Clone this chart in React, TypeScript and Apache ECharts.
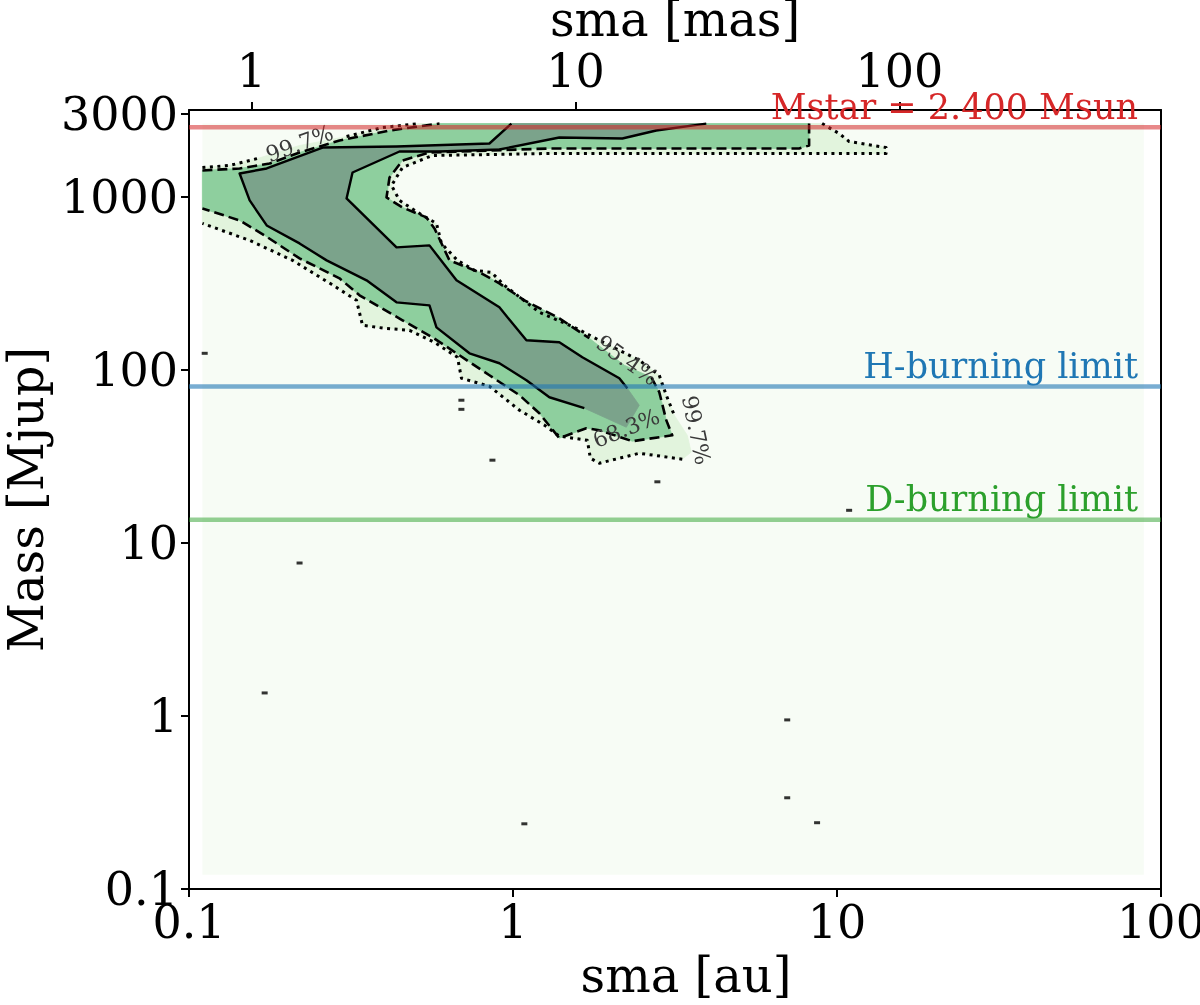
import React, { useEffect, useRef } from "react";
import * as echarts from "echarts";

// ---------- data ----------
const X_TICKS = [0.1, 1, 10, 100];
const TOP_TICKS = [1, 10, 100];
const Y_TICKS = [0.1, 1, 10, 100, 1000, 3000];
const X_RANGE = [0.1, 100]; // au
const Y_RANGE = [0.1, 3162]; // Mjup
const DIST_PC = 155.8; // sma[mas] = sma[au] * 1000 / distance

// extent of the probability grid [au, Mjup]
const GRID_EXTENT = [
  [0.11, 0.121],
  [88.5, 2640],
];

// 99.7% contour [au, Mjup]
const C997: number[][] = [
  [0.11, 1472], [0.1335, 1512], [0.1628, 1659], [0.2194, 1972], [0.3064, 2222],
  [0.3957, 2505], [0.5145, 2640], [8.996, 2640], [10.15, 2313], [10.9, 2080],
  [14.17, 1920], [14.17, 1773], [3.757, 1773], [1.295, 1773], [0.5642, 1727],
  [0.456, 1472], [0.4218, 1159], [0.4464, 949.5], [0.5255, 778.1], [0.5805, 699.5],
  [0.6015, 536.3], [0.6739, 427.8], [0.7604, 374.6], [0.8579, 364.8], [0.9406, 306.9],
  [1.206, 214.4], [1.547, 175.6], [1.847, 147.8], [2.453, 113.3], [2.828, 92.8],
  [2.972, 71.2], [3.146, 54.6], [3.45, 41.8], [3.549, 33.4], [3.33, 30.4],
  [2.453, 32.9], [1.847, 28.8], [1.733, 30.8], [1.696, 39.1], [1.39, 41.3],
  [1.25, 47.8], [1.047, 58.3], [0.8458, 80.2], [0.6933, 89.2], [0.6739, 117.9],
  [0.5723, 143.9], [0.4793, 168.8], [0.4013, 173.4], [0.3432, 180.4], [0.3289, 251.5],
  [0.2754, 311.0], [0.2088, 427.8], [0.1539, 558.1], [0.11, 699.5],
];
const C997_RUNS = [[0, 2], [4, 6], [7, 31], [34, 53]];

// 95.4% contour [au, Mjup]
const C954: number[][] = [
  [0.11, 1415], [0.1433, 1453], [0.1774, 1552], [0.2194, 1797], [0.2915, 2107],
  [0.4158, 2407], [0.593, 2640], [8.202, 2640], [8.202, 1972], [7.641, 1895],
  [1.295, 1895], [0.5523, 1797], [0.456, 1616], [0.4158, 1289], [0.407, 988],
  [0.456, 865], [0.5407, 757.7], [0.5723, 654.5], [0.6367, 427.8], [0.7879, 364.8],
  [0.9078, 315.2], [1.084, 251.5], [1.39, 198.0], [1.72, 151.8], [2.206, 106.0],
  [2.672, 90.4], [2.828, 74.1], [2.972, 51.1], [3.101, 41.8], [2.335, 38.6],
  [1.847, 44.7], [1.684, 45.9], [1.39, 40.2], [1.206, 56.0], [1.047, 71.2],
  [0.8458, 92.8], [0.6692, 124.3], [0.5642, 153.8], [0.456, 192.8], [0.336, 268.8],
  [0.2915, 336.9], [0.2194, 439.3], [0.1712, 596.4], [0.1433, 727.9], [0.11, 853.6],
];
const C954_RUNS = [[0, 6], [7, 23], [25, 44]];

// 68.3% contour [au, Mjup]
const C683: number[][] = [
  [1.66, 59.9], [1.295, 69.3], [1.1, 86.9], [0.9078, 108.9], [0.7339, 124.3],
  [0.5805, 175.6], [0.5523, 235.3], [0.437, 244.9], [0.3531, 328.1], [0.2659, 427.8],
  [0.2194, 536.3], [0.1737, 681], [0.1539, 949.5], [0.1433, 1359], [0.1737, 1453],
  [0.2584, 1920], [0.437, 1946], [0.8458, 2025], [0.9887, 2640], [3.949, 2640],
  [2.768, 2407], [2.175, 2165], [1.39, 2193], [0.9078, 1870], [0.593, 1821],
  [0.4464, 1821], [0.3197, 1377], [0.3064, 975], [0.437, 508.6], [0.5523, 522.3],
  [0.6692, 328.1], [0.9078, 229.1], [1.1, 147.8], [1.39, 143.9], [1.637, 117.9],
  [2.129, 89.2], [2.253, 78.1], [2.453, 62.3], [2.237, 46.5],
];
const C683_RUNS = [[0, 18], [19, 36]];

// contour labels
const CLABEL_TEXT = ["99.7%", "95.4%", "68.3%", "99.7%"];
const CLABEL_POS = [[0.2194, 2025], [2.253, 113.3], [2.237, 45.9], [3.678, 44.7]];
const CLABEL_ANGLE = [20, -35, 22, -78];

// isolated tiny contour islands [au, Mjup]
const SPECKS: number[][] = [
  [0.1118, 124.3], [0.864, 30], [2.79, 22.5], [0.2194, 7.64], [0.1712, 1.357],
  [1.084, 0.238], [7.02, 0.948], [7.02, 0.3365], [8.68, 0.2415], [10.9, 15.4],
  [0.693, 66.6], [0.693, 59],
];

// reference limits
const LIMIT_NAMES = ["Mstar = 2.400 Msun", "H-burning limit", "D-burning limit"];
const LIMIT_VALUES = [2514.2, 80, 13.6];

// ---------- styles ----------
const FONT = "DejaVu Serif";
const BG = "#f7fcf5";
const FILLS = ["#e2f4dd", "#8ecf9e", "#7ba38b"];
const DASHES: (number[] | null)[] = [[3, 4.5], [10, 5], null];
const LINE_WIDTHS = [3, 2.6, 2.4];
const LIMIT_LINE_COLORS = ["rgba(214,39,40,0.55)", "rgba(31,119,180,0.6)", "rgba(44,160,44,0.5)"];
const LIMIT_TEXT_COLORS = ["#d62728", "#1f77b4", "#2ca02c"];

export default function App() {
  const ref = useRef<HTMLDivElement>(null);
  useEffect(() => {
    document.body.style.margin = "0";
    const chart = echarts.init(ref.current!, null, { renderer: "svg" });
    const contours = [
      { pts: C997, runs: C997_RUNS, fill: FILLS[0], dash: DASHES[0], lw: LINE_WIDTHS[0] },
      { pts: C954, runs: C954_RUNS, fill: FILLS[1], dash: DASHES[1], lw: LINE_WIDTHS[1] },
      { pts: C683, runs: C683_RUNS, fill: FILLS[2], dash: DASHES[2], lw: LINE_WIDTHS[2] },
    ];
    const fmt = (v: number) => String(+Number(v).toPrecision(6));
    const axisLine = { show: true, onZero: false, lineStyle: { color: "#000", width: 2 } };
    const tick = { show: true, inside: false, length: 8, lineStyle: { color: "#000", width: 2 } };
    const label = { fontFamily: FONT, fontSize: 46, color: "#000" };
    const nameStyle = { fontFamily: FONT, fontSize: 48, color: "#000" };

    const option: any = {
      animation: false,
      grid: { left: 189, right: 39, top: 110, bottom: 116, containLabel: false, outerBoundsMode: "none" },
      xAxis: [
        {
          type: "log", logBase: 10, min: X_RANGE[0], max: X_RANGE[1], position: "bottom",
          name: "sma [au]", nameLocation: "middle", nameGap: 62,
          nameTextStyle: { ...nameStyle, padding: [0, 0, 0, 22] },
          axisLine, axisTick: { ...tick, customValues: X_TICKS },
          axisLabel: { ...label, margin: 10, customValues: X_TICKS, formatter: fmt },
          splitLine: { show: false }, minorTick: { show: false },
        },
        {
          type: "log", logBase: 10, min: (X_RANGE[0] * 1000) / DIST_PC, max: (X_RANGE[1] * 1000) / DIST_PC,
          position: "top",
          name: "sma [mas]", nameLocation: "middle", nameGap: 58, nameTextStyle: nameStyle,
          axisLine, axisTick: { ...tick, customValues: TOP_TICKS },
          axisLabel: { ...label, margin: 16, customValues: TOP_TICKS, formatter: fmt },
          splitLine: { show: false },
        },
      ],
      yAxis: [
        {
          type: "log", logBase: 10, min: Y_RANGE[0], max: Y_RANGE[1], position: "left",
          name: "Mass [Mjup]", nameLocation: "middle", nameGap: 131, nameTextStyle: nameStyle,
          axisLine, axisTick: { ...tick, customValues: Y_TICKS },
          axisLabel: { ...label, margin: 11, customValues: Y_TICKS, formatter: fmt },
          splitLine: { show: false },
        },
        {
          type: "log", logBase: 10, min: Y_RANGE[0], max: Y_RANGE[1], position: "right",
          axisLine, axisTick: { show: false }, axisLabel: { show: false }, splitLine: { show: false },
        },
      ],
      series: [
        {
          type: "custom", xAxisIndex: 0, yAxisIndex: 0, data: [[1, 1]], silent: true, z: 1,
          renderItem: (params: any, api: any) => {
            const a = api.coord(GRID_EXTENT[0]);
            const b = api.coord(GRID_EXTENT[1]);
            const children: any[] = [
              { type: "rect", shape: { x: a[0], y: b[1], width: b[0] - a[0], height: a[1] - b[1] }, style: { fill: BG } },
            ];
            contours.forEach((c) => {
              children.push({
                type: "polygon",
                shape: { points: c.pts.map((p) => api.coord(p)) },
                style: { fill: c.fill, stroke: c.fill, lineWidth: 0.8 },
              });
            });
            return { type: "group", children };
          },
        },
        {
          type: "custom", xAxisIndex: 0, yAxisIndex: 0, data: [[1, 1]], silent: true, z: 2,
          renderItem: (params: any, api: any) => {
            const children: any[] = [];
            contours.forEach((c) => {
              const px = c.pts.map((p) => api.coord(p));
              c.runs.forEach(([s, e]) => {
                children.push({
                  type: "polyline",
                  shape: { points: px.slice(s, e + 1) },
                  style: { fill: "none", stroke: "#000", lineWidth: c.lw, lineDash: c.dash || undefined, lineCap: "butt", lineJoin: "round" },
                });
              });
            });
            CLABEL_TEXT.forEach((t, i) => {
              const p = api.coord(CLABEL_POS[i]);
              children.push({
                type: "text", x: p[0], y: p[1], rotation: (CLABEL_ANGLE[i] * Math.PI) / 180,
                style: { text: t, fill: "#3a3a3a", fontFamily: FONT, fontSize: 22, align: "center", verticalAlign: "middle" },
              });
            });
            return { type: "group", children };
          },
        },
        {
          type: "scatter", xAxisIndex: 0, yAxisIndex: 0, data: SPECKS, symbol: "rect", symbolSize: [6, 3],
          itemStyle: { color: "#000" }, silent: true, z: 3,
        },
        {
          type: "custom", xAxisIndex: 0, yAxisIndex: 0, data: LIMIT_VALUES.map((v) => [1, v]), silent: true, z: 4,
          renderItem: (params: any, api: any) => {
            const i = params.dataIndex;
            const cs = params.coordSys;
            const y = api.coord([1, api.value(1)])[1];
            return {
              type: "group",
              children: [
                { type: "line", shape: { x1: cs.x, y1: y, x2: cs.x + cs.width, y2: y }, style: { stroke: LIMIT_LINE_COLORS[i], lineWidth: 4.5 } },
                {
                  type: "text", x: cs.x + cs.width - 23, y: y - 3,
                  style: { text: LIMIT_NAMES[i], fill: LIMIT_TEXT_COLORS[i], fontFamily: FONT, fontSize: 35, align: "right", verticalAlign: "bottom" },
                },
              ],
            };
          },
        },
      ],
    };
    chart.setOption(option);
    return () => chart.dispose();
  }, []);
  return <div ref={ref} style={{ position: "fixed", left: 0, top: 0, width: 1200, height: 1005 }} />;
}
